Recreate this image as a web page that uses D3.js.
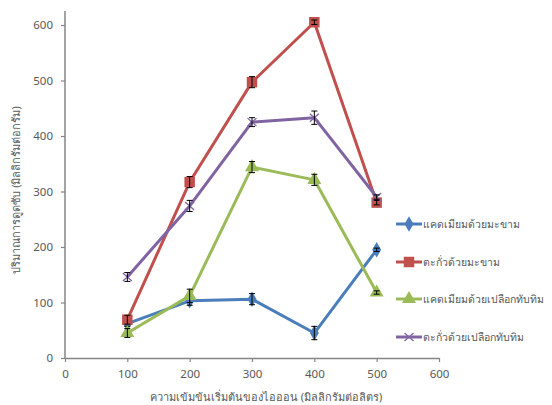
<!DOCTYPE html>
<html>
<head>
<meta charset="utf-8">
<script src="https://cdn.jsdelivr.net/npm/d3@7"></script>
<style>
  body { margin: 0; background: #fff; }
  text { font-family: "Noto Sans", "DejaVu Sans", sans-serif; fill: #595959; }
</style>
</head>
<body>
<div id="chart"></div>
<script>
const concentrations = [100, 200, 300, 400, 500];
const seriesNames = [
  'แคดเมียมด้วยมะขาม',
  'ตะกั่วด้วยมะขาม',
  'แคดเมียมด้วยเปลือกทับทิม',
  'ตะกั่วด้วยเปลือกทับทิม'
];
const cdTamarind = [62, 103, 106, 45, 195];
const pbTamarind = [69, 317, 497, 605, 280];
const cdPomegranate = [45, 112, 344, 321, 118];
const pbPomegranate = [146, 274, 425, 433, 290];
const cdTamarindErr = [5, 8, 10, 12, 3];
const pbTamarindErr = [8, 10, 10, 4, 4];
const cdPomegranateErr = [8, 12, 10, 10, 3];
const pbPomegranateErr = [8, 10, 8, 12, 4];
const xTicks = [0, 100, 200, 300, 400, 500, 600];
const yTicks = [0, 100, 200, 300, 400, 500, 600];

const colors = ['#4a7ebb', '#c0504d', '#9bbb59', '#8064a2'];
const symbols = ['diamond', 'square', 'triangle', 'cross'];

const series = [
  { name: seriesNames[0], values: cdTamarind, errors: cdTamarindErr },
  { name: seriesNames[1], values: pbTamarind, errors: pbTamarindErr },
  { name: seriesNames[2], values: cdPomegranate, errors: cdPomegranateErr },
  { name: seriesNames[3], values: pbPomegranate, errors: pbPomegranateErr }
];

const width = 552, height = 405;
const svg = d3.select('#chart').append('svg')
  .attr('width', width).attr('height', height);

const x = d3.scaleLinear().domain([0, 600]).range([65, 439]);
const y = d3.scaleLinear().domain([0, 600]).range([358, 25]);

// axes
const xAxis = svg.append('g')
  .attr('transform', `translate(0,${y(0)})`)
  .call(d3.axisBottom(x).tickValues(xTicks).tickSize(4).tickSizeOuter(0).tickPadding(8));
const yAxis = svg.append('g')
  .attr('transform', `translate(${x(0)},0)`)
  .call(d3.axisLeft(y).tickValues(yTicks).tickSize(4).tickSizeOuter(0).tickPadding(8));

[xAxis, yAxis].forEach(a => {
  a.select('.domain').attr('stroke', '#868686').attr('stroke-width', 1.5);
  a.selectAll('.tick line').attr('stroke', '#868686').attr('stroke-width', 1.2);
  a.selectAll('.tick text').attr('fill', '#595959').style('font-size', '11.5px');
});
yAxis.select('.domain').attr('d', `M0,${y(0)}V11`);

const line = d3.line()
  .x((d, i) => x(concentrations[i]))
  .y(d => y(d));

function markerPath(type) {
  if (type === 'diamond') return d3.symbol(d3.symbolDiamond, 70)();
  if (type === 'square') return d3.symbol(d3.symbolSquare, 110)();
  if (type === 'triangle') return d3.symbol(d3.symbolTriangle, 85)();
  return 'M-4.5,-4L4.5,4M-4.5,4L4.5,-4';
}

function drawMarker(g, type, color) {
  const p = g.append('path').attr('d', markerPath(type));
  if (type === 'cross') p.attr('fill', 'none').attr('stroke', color).attr('stroke-width', 1.3);
  else p.attr('fill', color);
}

series.forEach((s, si) => {
  const g = svg.append('g');
  g.append('path')
    .datum(s.values)
    .attr('d', line)
    .attr('fill', 'none')
    .attr('stroke', colors[si])
    .attr('stroke-width', 3)
    .attr('stroke-linejoin', 'round');

  s.values.forEach((v, i) => {
    const cx = x(concentrations[i]);
    const m = g.append('g').attr('transform', `translate(${cx},${y(v)})`);
    drawMarker(m, symbols[si], colors[si]);
    const e = s.errors[i];
    const eb = g.append('g').attr('stroke', '#000').attr('stroke-width', 1);
    eb.append('line').attr('x1', cx).attr('x2', cx).attr('y1', y(v - e)).attr('y2', y(v + e));
    eb.append('line').attr('x1', cx - 3).attr('x2', cx + 3).attr('y1', y(v - e)).attr('y2', y(v - e));
    eb.append('line').attr('x1', cx - 3).attr('x2', cx + 3).attr('y1', y(v + e)).attr('y2', y(v + e));
  });
});

// legend
const legendY = [224, 262, 299, 337];
series.forEach((s, si) => {
  const lg = svg.append('g').attr('transform', `translate(396,${legendY[si]})`);
  lg.append('line').attr('x1', 0).attr('x2', 26).attr('y1', 0).attr('y2', 0)
    .attr('stroke', colors[si]).attr('stroke-width', 3);
  const m = lg.append('g').attr('transform', 'translate(13,0)');
  drawMarker(m, symbols[si], colors[si]);
  lg.append('text').attr('x', 27).attr('y', 4)
    .style('font-size', '10.5px').attr('fill', '#404040')
    .text(s.name);
});

// axis titles
svg.append('text')
  .attr('x', 266).attr('y', 401)
  .attr('text-anchor', 'middle')
  .style('font-size', '11px').attr('fill', '#404040')
  .text('ความเข้มข้นเริ่มต้นของไอออน (มิลลิกรัมต่อลิตร)');

svg.append('text')
  .attr('transform', 'translate(20,190) rotate(-90)')
  .attr('text-anchor', 'middle')
  .style('font-size', '11px').attr('fill', '#404040')
  .text('ปริมาณการดูดซับ (มิลลิกรัมต่อกรัม)');
</script>
</body>
</html>
